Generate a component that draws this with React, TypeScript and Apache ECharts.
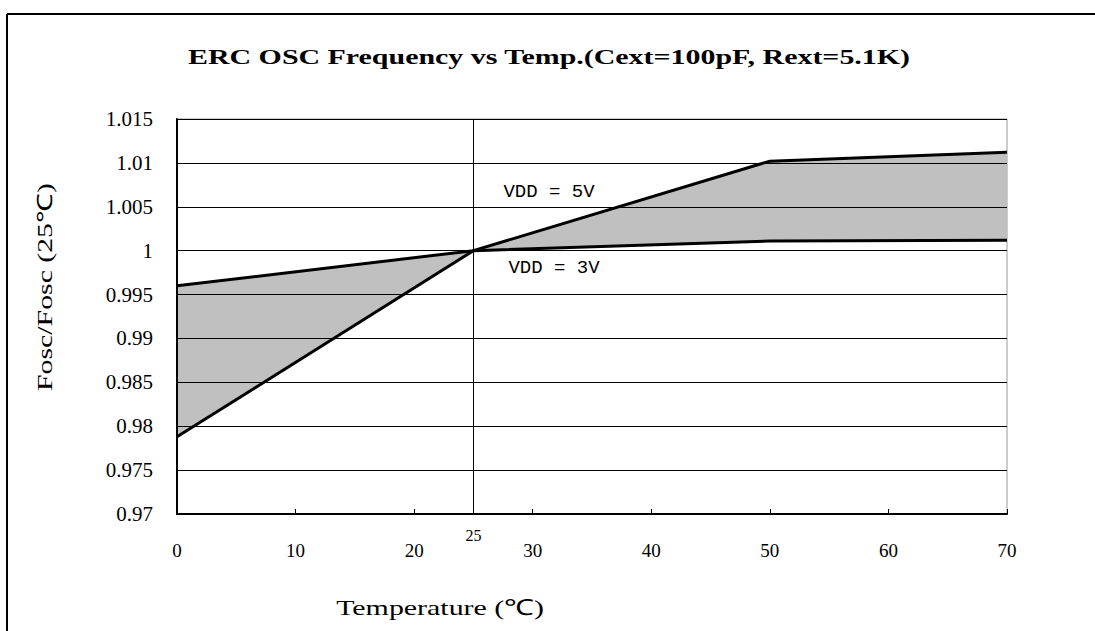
import React, { useEffect, useRef } from "react";
import * as echarts from "echarts";

const titleText = "ERC OSC Frequency vs Temp.(Cext=100pF, Rext=5.1K)";
const xName = "Temperature (℃)";
const yName = "Fosc/Fosc (25℃)";

const temps = [0, 25, 50, 70];
const vdd3 = [0.996, 1.0, 1.0011, 1.0012];
const vdd5 = [0.9788, 1.0, 1.0102, 1.0112];

const xMin = 0;
const xMax = 70;
const xStep = 10;
const yMin = 0.97;
const yMax = 1.015;
const yStep = 0.005;
const refTemp = 25;

const label5 = "VDD = 5V";
const label3 = "VDD = 3V";

const serif = "'Liberation Serif', 'Times New Roman', serif";
const mono = "'Liberation Mono', 'DejaVu Sans Mono', monospace";

export default function App() {
  const ref = useRef<HTMLDivElement>(null);
  useEffect(() => {
    if (!ref.current) return;
    const chart = echarts.init(ref.current, null, { renderer: "svg" });
    const line3 = temps.map((t, i) => [t, vdd3[i]]);
    const line5 = temps.map((t, i) => [t, vdd5[i]]);
    chart.setOption({
      animation: false,
      backgroundColor: "#fff",
      grid: {
        left: 177,
        right: 88,
        top: 119,
        bottom: 117,
        show: true,
        borderColor: "#999",
        borderWidth: 1,
        backgroundColor: "transparent",
      },
      xAxis: {
        type: "value",
        min: xMin,
        max: xMax,
        interval: xStep,
        axisLine: { show: true, lineStyle: { color: "#000", width: 2 } },
        axisTick: { show: true, inside: true, length: 5, lineStyle: { color: "#000" } },
        splitLine: { show: false },
        axisLabel: { color: "#000", fontFamily: serif, fontSize: 19, margin: 27 },
      },
      yAxis: {
        type: "value",
        min: yMin,
        max: yMax,
        interval: yStep,
        z: 3,
        axisLine: { show: true, lineStyle: { color: "#000", width: 2 } },
        axisTick: { show: false },
        splitLine: { show: true, lineStyle: { color: "#000", width: 1 } },
        axisLabel: {
          color: "#000",
          fontFamily: serif,
          fontSize: 21,
          margin: 24,
          formatter: (v: number) => String(parseFloat(v.toFixed(3))),
        },
      },
      graphic: [
        {
          type: "line",
          shape: { x1: 7, y1: 14, x2: 1095, y2: 14 },
          style: { stroke: "#000", lineWidth: 2 },
          z: 100,
        },
        {
          type: "line",
          shape: { x1: 7, y1: 14, x2: 7, y2: 631 },
          style: { stroke: "#000", lineWidth: 2 },
          z: 100,
        },
        {
          type: "text",
          x: 549,
          y: 57,
          scaleX: 1.36,
          style: {
            text: titleText,
            font: `bold 22px ${serif}`,
            fill: "#000",
            textAlign: "center",
            textVerticalAlign: "middle",
          },
        },
        {
          type: "text",
          x: 45,
          y: 287,
          rotation: Math.PI / 2,
          scaleX: 1.42,
          style: {
            text: yName,
            font: `21px ${serif}`,
            fill: "#000",
            textAlign: "center",
            textVerticalAlign: "middle",
          },
        },
        {
          type: "text",
          x: 440,
          y: 608,
          scaleX: 1.36,
          style: {
            text: xName,
            font: `22px ${serif}`,
            fill: "#000",
            textAlign: "center",
            textVerticalAlign: "middle",
          },
        },
        {
          type: "text",
          x: 549,
          y: 192,
          style: {
            text: label5,
            font: `19px ${mono}`,
            fill: "#000",
            textAlign: "center",
            textVerticalAlign: "middle",
          },
          z: 50,
        },
        {
          type: "text",
          x: 554,
          y: 268,
          style: {
            text: label3,
            font: `19px ${mono}`,
            fill: "#000",
            textAlign: "center",
            textVerticalAlign: "middle",
          },
          z: 50,
        },
      ],
      series: [
        {
          type: "custom",
          z: 1,
          silent: true,
          data: [[temps[0], vdd3[0]]],
          renderItem: (_params: any, api: any) => {
            const pts: number[][] = [];
            temps.forEach((t, i) => pts.push(api.coord([t, vdd3[i]])));
            for (let i = temps.length - 1; i >= 0; i--) pts.push(api.coord([temps[i], vdd5[i]]));
            return {
              type: "polygon",
              shape: { points: pts },
              style: { fill: "#c0c0c0", stroke: "none" },
            };
          },
        },
        {
          type: "line",
          name: label3,
          z: 5,
          data: line3,
          symbol: "none",
          lineStyle: { color: "#000", width: 3 },
          markLine: {
            silent: true,
            symbol: "none",
            data: [{ xAxis: refTemp }],
            lineStyle: { color: "#000", width: 1, type: "solid" },
            label: {
              show: true,
              position: "start",
              formatter: String(refTemp),
              color: "#000",
              fontFamily: serif,
              fontSize: 16,
              distance: 13,
            },
          },
        },
        {
          type: "line",
          name: label5,
          z: 5,
          data: line5,
          symbol: "none",
          lineStyle: { color: "#000", width: 3 },
        },
      ],
    });
    return () => chart.dispose();
  }, []);
  return (
    <div
      ref={ref}
      style={{ position: "fixed", left: 0, top: 0, width: 1095, height: 631 }}
    />
  );
}
